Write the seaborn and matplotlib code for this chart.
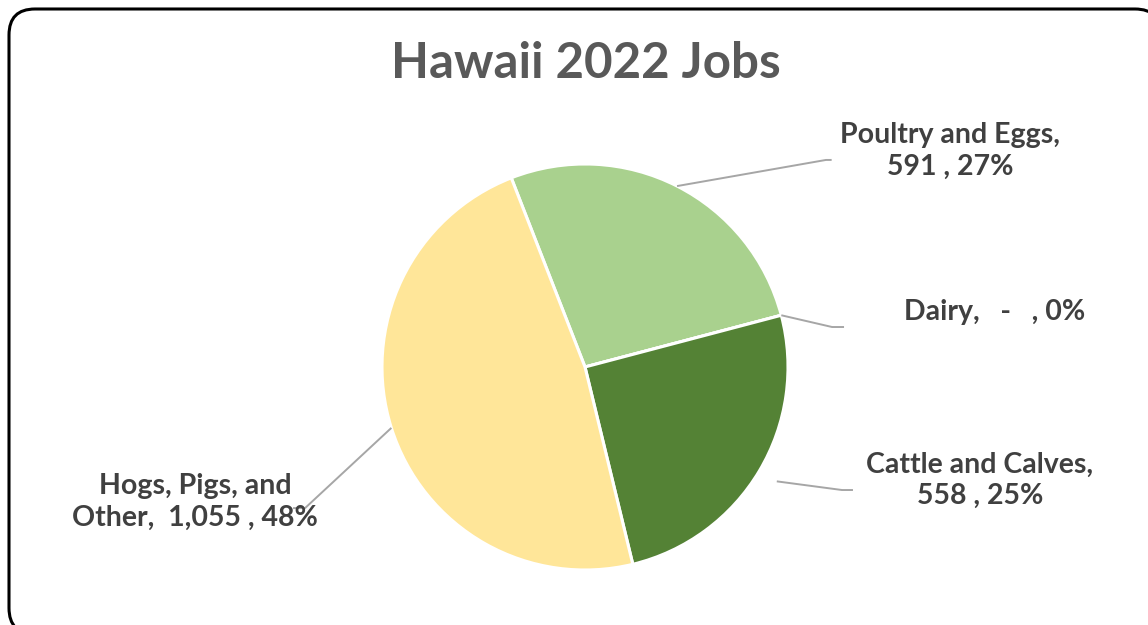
import numpy as np
import matplotlib
matplotlib.use("Agg")
import matplotlib.pyplot as plt
from matplotlib.patches import FancyBboxPatch
from matplotlib.transforms import IdentityTransform
import seaborn as sns

# ---- data ----
categories = ["Poultry and Eggs", "Dairy", "Cattle and Calves", "Hogs, Pigs, and Other"]
values = [591, 0, 558, 1055]
colors = ["#A9D18E", "#BDD7EE", "#548235", "#FFE699"]
title = "Hawaii 2022 Jobs"

sns.set_theme(style="white")
plt.rcParams["font.family"] = ["Lato", "DejaVu Sans"]

W, H, DPI = 1148, 625, 100
fig = plt.figure(figsize=(W / DPI, H / DPI), dpi=DPI)
fig.patch.set_facecolor("white")

# pie axes: centre (585, 367) px, radius 203 px
cx, cy, r = 585, 367, 203
ax = fig.add_axes([(cx - r) / W, (H - cy - r) / H, 2 * r / W, 2 * r / H])

total = sum(values)
wedges, _ = ax.pie(values, colors=colors, startangle=111.3, counterclock=False,
                   wedgeprops=dict(edgecolor="white", linewidth=2.2))
ax.set_xlim(-1, 1)
ax.set_ylim(-1, 1)
ax.set_aspect("equal")
ax.axis("off")

def fmt_val(v):
    return f"{v:,}" if v else " -  "

pcts = [round(100 * v / total) for v in values]
labels = [
    f"{categories[0]},\n{fmt_val(values[0])} , {pcts[0]}%",
    f"{categories[1]},  {fmt_val(values[1])} , {pcts[1]}%",
    f"{categories[2]},\n{fmt_val(values[2])} , {pcts[2]}%",
    "Hogs, Pigs, and\nOther,  " + f"{fmt_val(values[3])} , {pcts[3]}%",
]

# leader-line geometry (start radius, elbow point, end point) and label centres
leader = [
    (1.0, (1.187, 1.020), (1.215, 1.020)),
    (1.0, (1.217, 0.197), (1.276, 0.197)),
    (1.1, (1.266, -0.606), (1.320, -0.606)),
    (1.0, (-1.379, -0.695), (-1.438, -0.695)),
]
label_pos = [(1.798, 1.064), (2.02, 0.271), (1.946, -0.557), (-1.921, -0.665)]

for w, (rs, elbow, end), (lx, ly), lab, v in zip(wedges, leader, label_pos, labels, values):
    if v == 0:
        ang = np.deg2rad(w.theta1)
    else:
        ang = np.deg2rad((w.theta1 + w.theta2) / 2)
    sx, sy = rs * np.cos(ang), rs * np.sin(ang)
    ax.plot([sx, elbow[0], end[0]], [sy, elbow[1], end[1]], color="#A6A6A6",
            lw=1.4, clip_on=False, solid_capstyle="butt")
    ax.text(lx, ly, lab, ha="center", va="center", fontsize=20.5, fontweight="bold",
            color="#404040", linespacing=1.25, clip_on=False)

fig.text(586 / W, 1 - 64 / H, title, ha="center", va="center", fontsize=35.5,
         fontweight="bold", color="#595959")

border = FancyBboxPatch((9, -9), 1152, 625, boxstyle="round,pad=0,rounding_size=26",
                        transform=IdentityTransform(), facecolor="white",
                        edgecolor="black", linewidth=2.2, zorder=-10)
fig.patches.append(border)

fig.savefig("out.png", dpi=DPI)
